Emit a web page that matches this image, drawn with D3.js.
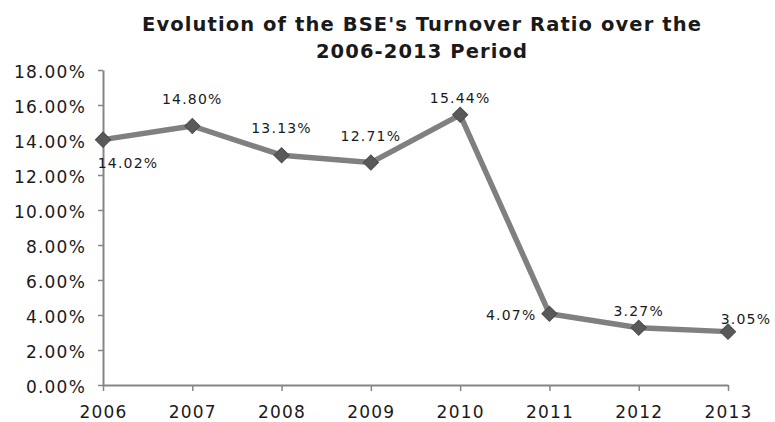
<!DOCTYPE html>
<html>
<head>
<meta charset="utf-8">
<script src="https://cdn.jsdelivr.net/npm/d3@7/dist/d3.min.js"></script>
<style>
  body { margin: 0; background: #fff; }
  #container { width: 775px; height: 422px; }
  text { font-family: "DejaVu Sans", Verdana, sans-serif; fill: #1a1a1a; }
</style>
</head>
<body>
<div id="container"></div>
<script>
var years = ["2006", "2007", "2008", "2009", "2010", "2011", "2012", "2013"];
var turnover = [0.1402, 0.1480, 0.1313, 0.1271, 0.1544, 0.0407, 0.0327, 0.0305];
var yTicks = [0, 0.02, 0.04, 0.06, 0.08, 0.10, 0.12, 0.14, 0.16, 0.18];
var labelSpot = ["belowRight", "above", "above", "above", "aboveNear", "left", "aboveNear", "aboveRight"];
var titleLines = ["Evolution of the BSE's Turnover Ratio over the", "2006-2013 Period"];

var container = document.getElementById("container");
var width = container.clientWidth;
var height = container.clientHeight;

var margin = {left: 103, right: 47, top: 70, bottom: 37};

var svg = d3.select(container).append("svg")
    .attr("width", width)
    .attr("height", height);

var x = d3.scalePoint()
    .domain(years)
    .range([margin.left, width - margin.right]);

var y = d3.scaleLinear()
    .domain([0, 0.18])
    .range([height - margin.bottom, margin.top]);

/* title */
svg.append("g")
    .attr("class", "title")
    .selectAll("text")
    .data(titleLines)
    .enter().append("text")
    .attr("x", 422)
    .attr("y", function(d, i) { return 31 + i * 27; })
    .attr("text-anchor", "middle")
    .style("font-size", "19.5px")
    .style("font-weight", "bold")
    .style("letter-spacing", "1.1px")
    .text(function(d) { return d; });

/* axes */
var yAxis = svg.append("g")
    .attr("class", "y axis")
    .attr("transform", "translate(" + margin.left + ",0)")
    .call(d3.axisLeft(y)
        .tickValues(yTicks)
        .tickFormat(d3.format(".2%"))
        .tickSize(5)
        .tickSizeOuter(0)
        .tickPadding(12));

var xAxis = svg.append("g")
    .attr("class", "x axis")
    .attr("transform", "translate(0," + y(0) + ")")
    .call(d3.axisBottom(x)
        .tickSize(6)
        .tickSizeOuter(0)
        .tickPadding(15));

svg.selectAll(".axis .domain")
    .attr("stroke", "#868686")
    .attr("stroke-width", 2);
svg.selectAll(".axis .tick line")
    .attr("stroke", "#868686")
    .attr("stroke-width", 1.5);
svg.selectAll(".axis .tick text")
    .style("font-size", "17px")
    .style("letter-spacing", "1.2px")
    .attr("fill", "#1a1a1a")
    .style("font-family", "'DejaVu Sans', Verdana, sans-serif");
yAxis.selectAll(".tick text").attr("dy", "0.45em");

/* line */
var line = d3.line()
    .x(function(d, i) { return x(years[i]); })
    .y(function(d) { return y(d); });

svg.append("path")
    .datum(turnover)
    .attr("class", "series")
    .attr("d", line)
    .style("fill", "none")
    .style("stroke", "#808080")
    .style("stroke-width", 5.5)
    .style("stroke-linejoin", "round");

/* diamond markers */
svg.append("g")
    .attr("class", "markers")
    .selectAll("path")
    .data(turnover)
    .enter().append("path")
    .attr("d", d3.symbol().type(d3.symbolSquare).size(115))
    .attr("transform", function(d, i) {
        return "translate(" + x(years[i]) + "," + y(d) + ") rotate(45)";
    })
    .style("fill", "#595959")
    .style("stroke", "#4d4d4d")
    .style("stroke-width", 1);

/* data labels */
var spots = {
    above:      {dx: 0,   dy: -22, anchor: "middle"},
    aboveNear:  {dx: 0,   dy: -12, anchor: "middle"},
    aboveRight: {dx: 18,  dy: -8,  anchor: "middle"},
    belowRight: {dx: 25,  dy: 28,  anchor: "middle"},
    left:       {dx: -13, dy: 6,   anchor: "end"}
};

svg.append("g")
    .attr("class", "labels")
    .selectAll("text")
    .data(turnover)
    .enter().append("text")
    .attr("x", function(d, i) { return x(years[i]) + spots[labelSpot[i]].dx; })
    .attr("y", function(d, i) { return y(d) + spots[labelSpot[i]].dy; })
    .attr("text-anchor", function(d, i) { return spots[labelSpot[i]].anchor; })
    .style("font-size", "14px")
    .style("letter-spacing", "1.2px")
    .text(function(d) { return d3.format(".2%")(d); });
</script>
</body>
</html>
